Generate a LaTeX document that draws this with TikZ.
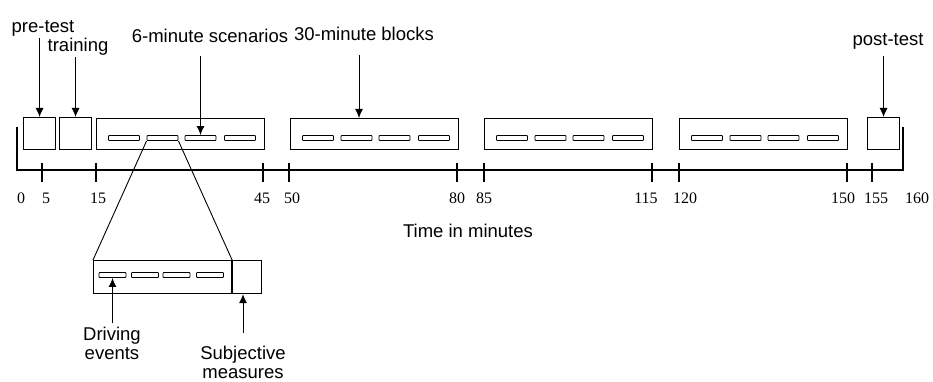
\documentclass[tikz,border=0pt]{standalone}
\usepackage{fontspec}
\setmainfont{Liberation Serif}
\setsansfont{Liberation Sans}
\usetikzlibrary{arrows.meta,calc,positioning}

\tikzset{
  box/.style={draw, line width=1.1pt, inner sep=0pt, minimum width=32pt, minimum height=32pt, anchor=north west},
  block/.style={box, minimum width=168pt, minimum height=31pt},
  bar/.style={draw, line width=0.9pt, rounded corners=0.8pt, fill=white, inner sep=0pt, minimum width=31pt, minimum height=5pt},
  lbl/.style={font=\sffamily\fontsize{18.5}{19}\selectfont, inner sep=1pt},
  lbltwo/.style={lbl, align=center},
  num/.style={font=\rmfamily\fontsize{16}{16}\selectfont, inner sep=0pt},
  arr/.style={-{Latex[length=9pt,width=8pt]}, line width=1pt},
  axis/.style={line width=1.2pt},
}

\begin{document}
\begin{tikzpicture}[x=1pt, y=-1pt]
\useasboundingbox (0,0) rectangle (933,382);

% --- labels above the time line ---
\node[lbl, anchor=base] (prelbl) at (43,33) {pre-test};
\node[lbl, anchor=base] (trnlbl) at (78,52) {training};
\node[lbl, anchor=base] (scnlbl) at (210,43) {6-minute scenarios};
\node[lbl, anchor=base] (blklbl) at (364,41) {30-minute blocks};
\node[lbl, anchor=base] (postlbl) at (888,46) {post-test};

% --- test and training boxes ---
\node[box] (prebox) at (23,117) {};
\node[box] (trnbox) at (59,117) {};
\node[box] (postbox) at (867,117) {};

% --- 30-minute blocks, each with four 6-minute scenarios ---
\foreach \b/\x in {1/96, 2/290, 3/484, 4/679}{
  \node[block] (blk\b) at (\x,118) {};
  \foreach \k/\dx in {1/28, 2/66.5, 3/104.5, 4/144}{
    \node[bar] (bar\b\k) at ($(blk\b.north west)+(\dx,20)$) {};
  }
}

% --- arrows from the labels ---
\draw[arr] (prelbl.south -| prebox.north) -- (prebox.north);
\draw[arr] (trnlbl.south -| trnbox.north) -- (trnbox.north);
\coordinate (scnarr) at (bar13.north |- scnlbl.south);
\draw[arr] ([yshift=-12pt]scnarr) -- (bar13.north);
\coordinate (blkarr) at (359,55);
\draw[arr] (blkarr) -- (blkarr |- blk2.north);
\draw[arr] (postbox.north |- postlbl.south) ++(0,5) -- (postbox.north);

% --- time line ---
\draw[axis] (17,127) -- (17,170) -- (903,170) -- (903,127);
\foreach \t/\x/\lx in {5/42/46, 15/96/98, 45/263/262, 50/289/292, 80/457/457, 85/484/484,
                       115/652/646, 120/679/685, 150/847/843, 155/872/876}{
  \draw[axis] (\x,163) -- (\x,182);
  \node[num, anchor=base] (t\t) at (\lx,203) {\t};
}
\node[num, anchor=base] (t0) at (21,203) {0};
\node[num, anchor=base] (t160) at (917,203) {160};
\node[lbl, anchor=base] (timelbl) at (468,237) {Time in minutes};

% --- one scenario in detail ---
\node[box, minimum width=138pt, minimum height=33pt] (detail) at (93,260) {};
\node[box, minimum width=29pt, minimum height=33pt] (subj) at (detail.north east) {};
\foreach \k/\dx in {1/19.5, 2/52, 3/83.5, 4/117}{
  \node[bar, minimum width=27pt] (dbar\k) at ($(detail.north west)+(\dx,15)$) {};
}
\draw[line width=0.9pt] (bar12.south west) -- (detail.north west);
\draw[line width=0.9pt] (bar12.south east) -- (detail.north east);

\node[lbltwo, anchor=north] (drvlbl) at (112,326) {Driving\\events};
\node[lbltwo, anchor=north] (subjlbl) at (243,345) {Subjective\\measures};
\draw[arr] (dbar1.south |- drvlbl.north) ++(0,-3) -- (dbar1.south);
\draw[arr] (subjlbl.north) ++(0,-12) -- (subjlbl.north |- subj.south);

\end{tikzpicture}
\end{document}
